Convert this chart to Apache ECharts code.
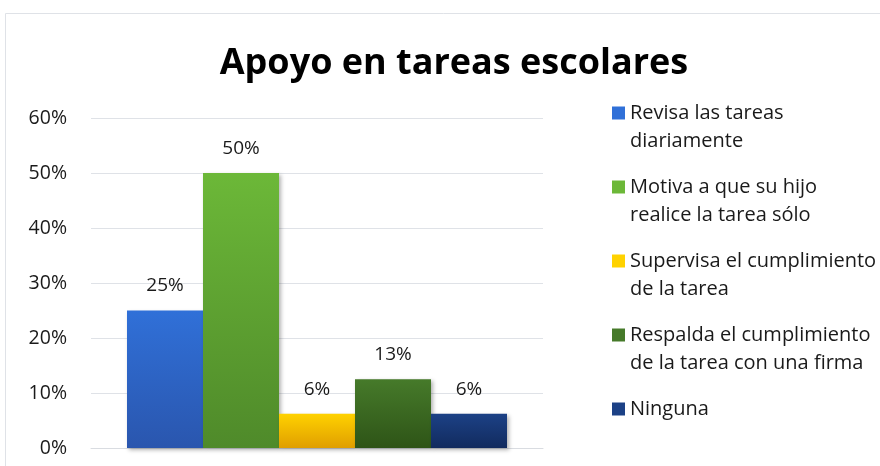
<!DOCTYPE html>
<html>
<head>
<meta charset="utf-8">
<script src="https://cdn.jsdelivr.net/npm/echarts@6/dist/echarts.min.js"></script>
<style>
  html, body { margin: 0; padding: 0; background: #fff; }
  #chart { width: 880px; height: 466px; }
</style>
</head>
<body>
<div id="chart"></div>
<script>
  // datos
  const categories = ['Apoyo en tareas escolares']
  const seriesNames = [
    'Revisa las tareas\ndiariamente',
    'Motiva a que su hijo\nrealice la tarea sólo',
    'Supervisa el cumplimiento\nde la tarea',
    'Respalda el cumplimiento\nde la tarea con una firma',
    'Ninguna'
  ]
  const seriesValues = [25, 50, 6.25, 12.5, 6.25]
  const topColors = ['#3070d8', '#6cb838', '#ffd200', '#467a2a', '#1c4186']
  const bottomColors = ['#2a56ae', '#4f8a2a', '#e09e00', '#2e5417', '#122b5e']

  const chart = echarts.init(document.getElementById('chart'))
  const font = '"Open Sans", Lato, sans-serif'

  // centro vertical de cada marcador de la leyenda
  const legendTops = [113, 187, 261, 335, 409]

  const series = seriesNames.map((name, i) => ({
    name,
    type: 'bar',
    barWidth: 76,
    barGap: '0%',
    data: [seriesValues[i]],
    itemStyle: {
      color: new echarts.graphic.LinearGradient(0, 0, 0, 1, [
        { offset: 0, color: topColors[i] },
        { offset: 1, color: bottomColors[i] }
      ]),
      shadowColor: 'rgba(0,0,0,0.3)',
      shadowBlur: 4,
      shadowOffsetX: 2,
      shadowOffsetY: 2
    },
    label: {
      show: true,
      position: 'top',
      distance: 15,
      fontFamily: font,
      fontSize: 19,
      color: '#1a1a1a',
      formatter: p => Math.round(p.value) + '%'
    }
  }))

  const legends = seriesNames.map((name, i) => {
    const twoLines = name.indexOf('\n') >= 0
    return {
      data: [{ name, itemStyle: { color: topColors[i] } }],
      left: 612,
      top: legendTops[i] - (twoLines ? 42 : 14),
      padding: 0,
      itemWidth: 13,
      itemHeight: 13,
      itemGap: 0,
      icon: 'rect',
      selectedMode: false,
      // linea vacia delante para que la primera linea quede junto al marcador
      formatter: n => (n.indexOf('\n') >= 0 ? '\n' + n : n),
      textStyle: {
        fontFamily: font,
        fontSize: 20,
        lineHeight: 28,
        color: '#1a1a1a'
      }
    }
  })

  const option = {
    animation: false,
    title: {
      text: 'Apoyo en tareas escolares',
      left: 449,
      textAlign: 'center',
      top: 41,
      textStyle: {
        fontFamily: font,
        fontSize: 36,
        fontWeight: 'bold',
        color: '#000'
      }
    },
    graphic: [{
      type: 'rect',
      shape: { x: 5.5, y: 13.5, width: 900, height: 500 },
      style: { fill: 'none', stroke: '#dfe2e7', lineWidth: 1 },
      silent: true
    }],
    legend: legends,
    grid: { left: 91, right: 337, top: 118, bottom: 18 },
    xAxis: {
      type: 'category',
      data: categories,
      axisLabel: { show: false },
      axisTick: { show: false },
      axisLine: { lineStyle: { color: '#d9dce1' } }
    },
    yAxis: {
      type: 'value',
      min: 0,
      max: 60,
      interval: 10,
      axisLabel: {
        formatter: '{value}%',
        fontFamily: font,
        fontSize: 19.5,
        color: '#1a1a1a',
        margin: 24
      },
      axisLine: { show: false },
      axisTick: { show: false },
      splitLine: { lineStyle: { color: '#dfe2e7', width: 1 } }
    },
    series
  }

  chart.setOption(option)
  window.addEventListener('resize', () => {
    chart.resize()
  })
</script>
</body>
</html>
